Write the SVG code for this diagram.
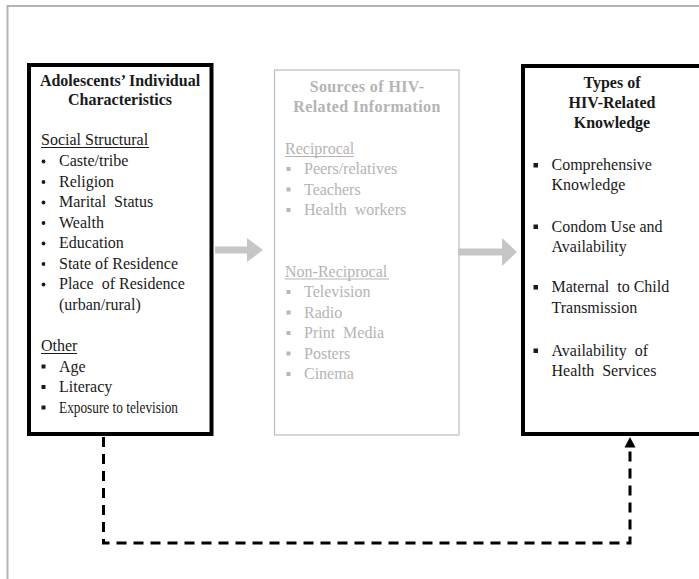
<svg xmlns="http://www.w3.org/2000/svg" width="699" height="579" viewBox="0 0 699 579">
  <style>
    text { font-family: "Liberation Serif", "Times New Roman", serif; font-size: 16px; fill: #1a1a1a; }
    .title { font-weight: bold; text-anchor: middle; }
    .muted { fill: #b4b4b4; }
    .box { fill: #ffffff; stroke: #000000; stroke-width: 4; }
    .soft-box { fill: #ffffff; stroke: #bdbdbd; stroke-width: 1.2; }
    .ul { stroke: #1a1a1a; stroke-width: 1; }
    .ul-muted { stroke: #b4b4b4; stroke-width: 1; }
    .sq { fill: #1a1a1a; }
    .sq-muted { fill: #b8b8b8; }
    .flow { fill: #c6c6c6; }
    .dash { fill: none; stroke: #000000; stroke-width: 3; stroke-dasharray: 10 7; }
  </style>
  <defs>
    <marker id="head" viewBox="0 0 10 10" refX="9" refY="5" markerWidth="4" markerHeight="4" orient="auto" markerUnits="strokeWidth">
      <path d="M0,0 L10,5 L0,10 Z" fill="#000000"/>
    </marker>
  </defs>

  <rect width="699" height="579" fill="#ffffff"/>
  <!-- page frame -->
  <rect x="7.5" y="6" width="710" height="600" fill="none" stroke="#b3b3b3" stroke-width="2"/>

  <!-- individual characteristics -->
  <g id="characteristics">
    <rect class="box" x="29" y="65" width="182.5" height="369"/>
    <text class="title" x="120" y="86">Adolescents’ Individual</text>
    <text class="title" x="120" y="105">Characteristics</text>
    <text x="41" y="145">Social Structural</text>
    <line class="ul" x1="41" y1="147.5" x2="149" y2="147.5"/>
    <circle cx="43.5" cy="161.5" r="1.9" fill="#1a1a1a"/>
    <text x="59" y="166">Caste/tribe</text>
    <circle cx="43.5" cy="182" r="1.9" fill="#1a1a1a"/>
    <text x="59" y="186.5">Religion</text>
    <circle cx="43.5" cy="202.5" r="1.9" fill="#1a1a1a"/>
    <text x="59" y="207" xml:space="preserve">Marital  Status</text>
    <circle cx="43.5" cy="223" r="1.9" fill="#1a1a1a"/>
    <text x="59" y="227.5">Wealth</text>
    <circle cx="43.5" cy="243.5" r="1.9" fill="#1a1a1a"/>
    <text x="59" y="248">Education</text>
    <circle cx="43.5" cy="264" r="1.9" fill="#1a1a1a"/>
    <text x="59" y="268.5">State of Residence</text>
    <circle cx="43.5" cy="284.5" r="1.9" fill="#1a1a1a"/>
    <text x="59" y="289" xml:space="preserve">Place  of Residence</text>
    <text x="59" y="309.5">(urban/rural)</text>
    <text x="41" y="351">Other</text>
    <line class="ul" x1="41" y1="353.5" x2="77" y2="353.5"/>
    <rect class="sq" x="41.5" y="364.5" width="4" height="4"/>
    <text x="59" y="371.5">Age</text>
    <rect class="sq" x="41.5" y="385" width="4" height="4"/>
    <text x="59" y="392">Literacy</text>
    <rect class="sq" x="41.5" y="405.5" width="4" height="4"/>
    <text x="59" y="412.5" textLength="119" lengthAdjust="spacingAndGlyphs">Exposure to television</text>
  </g>

  <!-- information sources -->
  <g id="sources">
    <rect class="soft-box" x="274.5" y="70" width="184.5" height="365"/>
    <text class="title muted" x="367" y="92" letter-spacing="0.4">Sources of HIV-</text>
    <text class="title muted" x="367" y="111.5" letter-spacing="0.4">Related Information</text>
    <text class="muted" x="285" y="154">Reciprocal</text>
    <line class="ul-muted" x1="285" y1="156.5" x2="354" y2="156.5"/>
    <rect class="sq-muted" x="286.5" y="167" width="4" height="4"/>
    <text class="muted" x="304" y="174">Peers/relatives</text>
    <rect class="sq-muted" x="286.5" y="187.5" width="4" height="4"/>
    <text class="muted" x="304" y="194.5">Teachers</text>
    <rect class="sq-muted" x="286.5" y="208" width="4" height="4"/>
    <text class="muted" x="304" y="215" xml:space="preserve">Health  workers</text>
    <text class="muted" x="285" y="276.5">Non-Reciprocal</text>
    <line class="ul-muted" x1="285" y1="279" x2="389" y2="279"/>
    <rect class="sq-muted" x="286.5" y="290" width="4" height="4"/>
    <text class="muted" x="304" y="297">Television</text>
    <rect class="sq-muted" x="286.5" y="310.5" width="4" height="4"/>
    <text class="muted" x="304" y="317.5">Radio</text>
    <rect class="sq-muted" x="286.5" y="331" width="4" height="4"/>
    <text class="muted" x="304" y="338" xml:space="preserve">Print  Media</text>
    <rect class="sq-muted" x="286.5" y="351.5" width="4" height="4"/>
    <text class="muted" x="304" y="358.5">Posters</text>
    <rect class="sq-muted" x="286.5" y="372" width="4" height="4"/>
    <text class="muted" x="304" y="379">Cinema</text>
  </g>

  <!-- knowledge types -->
  <g id="knowledge">
    <rect class="box" x="523" y="66" width="190" height="368"/>
    <text class="title" x="612" y="88">Types of</text>
    <text class="title" x="612" y="108">HIV-Related</text>
    <text class="title" x="612" y="128">Knowledge</text>
    <rect class="sq" x="533.5" y="163" width="4.5" height="4.5"/>
    <text x="551.5" y="170">Comprehensive</text>
    <text x="551.5" y="190">Knowledge</text>
    <rect class="sq" x="533.5" y="224.5" width="4.5" height="4.5"/>
    <text x="551.5" y="231.5" xml:space="preserve">Condom Use and</text>
    <text x="551.5" y="251.5">Availability</text>
    <rect class="sq" x="533.5" y="285" width="4.5" height="4.5"/>
    <text x="551.5" y="292" xml:space="preserve">Maternal  to Child</text>
    <text x="551.5" y="312.5">Transmission</text>
    <rect class="sq" x="533.5" y="348.5" width="4.5" height="4.5"/>
    <text x="551.5" y="355.5" xml:space="preserve">Availability  of</text>
    <text x="551.5" y="375.5" xml:space="preserve">Health  Services</text>
  </g>

  <!-- connectors -->
  <g id="connectors">
    <path class="flow" d="M215,246.5 H247 V238 L263,250 L247,262 V253.5 H215 Z"/>
    <path class="flow" d="M458,248.5 H502 V238 L517,252 L502,266 V255.5 H458 Z"/>
    <path class="dash" d="M103.5,437 V543 H630 V448"/>
    <path d="M630,437 L624.5,447.5 L635.5,447.5 Z" fill="#000000"/>
  </g>
</svg>
